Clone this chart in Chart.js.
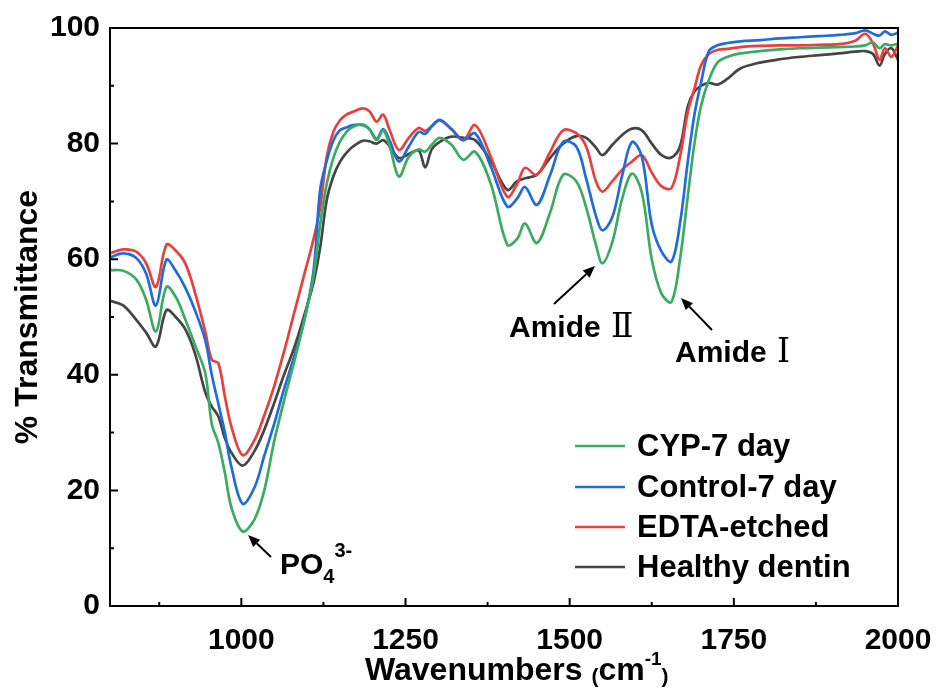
<!DOCTYPE html>
<html><head><meta charset="utf-8">
<script src="https://cdn.jsdelivr.net/npm/chart.js@4/dist/chart.umd.min.js"></script>
<style>html,body{margin:0;padding:0;background:#fff;} #wrap{width:938px;height:690px;position:relative;}</style>
</head><body><div id="wrap"><canvas id="c" width="938" height="690"></canvas></div>
<script>
const wavenumbers = [800,820,840,855,870,886,900,915,930,945,955,965,975,985,1002,1020,1035,1050,1065,1080,1095,1110,1120,1130,1140,1150,1160,1170,1185,1195,1206,1216,1226,1240,1255,1270,1280,1290,1302,1320,1338,1356,1380,1405,1420,1432,1450,1470,1490,1510,1525,1540,1550,1565,1580,1595,1610,1625,1640,1655,1668,1680,1690,1700,1712,1725,1740,1760,1790,1820,1850,1880,1910,1935,1950,1962,1972,1980,1990,2000];
const cyp7 = [58.1,58.0,56.5,53,47.5,55.2,53.5,49.5,45,40.3,31.5,28.2,23,17,12.9,15,20,28.5,35.5,42,49,57,66,73,77.5,80.3,82,82.9,83.3,82.5,80.6,82.3,79.5,74.3,77.7,79.0,78.6,79.8,81,79.8,77.2,78.6,73,62.5,63.5,66.2,62.8,68,74.6,73.5,69,62.5,59.3,63,70.5,74.8,71.5,60,54,52.6,60,71,80,86.5,91,94,95,95.6,96,96.3,96.5,96.6,96.7,96.8,97,97.5,96.5,97.2,97,97.3];
const control7 = [60.3,61,60.2,57.5,52,59.9,58,55,51,46,40,35,30,24,17.7,20.5,26,31.5,37.5,43,49,58,72,77,80.5,82.3,82.8,83.2,83.2,82.5,80.8,82.5,80.5,76.9,79.5,82,81.7,83,84.1,82.5,80.6,81.8,76,69.1,70.5,72.5,69.4,74.5,80.3,79.5,74,67.5,65,67.3,74.5,80.3,77.7,66,61.3,59.6,66.2,77,85,90.5,96,97,97.4,97.7,97.9,98.2,98.4,98.6,98.8,99.1,99.6,99,98.7,99.4,98.8,99.2];
const edta = [61,61.7,61.3,59.3,55.2,62.5,61.5,59.2,54,47.5,42.6,42,36.2,31,26.1,28.7,33,38,44,50.5,57,63.5,69,77.7,82,84,85,85.5,86.1,85.6,83.8,85,82.3,78.9,81,82.7,82.2,83,84,82.5,80.6,83.2,77.7,70.8,73,75.8,74.6,78.5,82.3,81.8,79.5,73.5,71.7,73.5,75.5,76.9,78,75,72.6,72.3,77.7,85.5,89.5,93.5,95.5,96.2,96.4,96.7,96.9,97,97,97.1,97.2,97.8,99,97.3,94.5,96.5,95,97];
const healthy = [52.8,52,49.5,47.3,44.9,51.2,50,47.8,43.5,37,34.5,32.8,29,26.5,24.3,26.8,30.5,35.1,40,44.5,50,56,62,70.2,74.3,76.8,78.4,79.5,80.5,80.4,80,80.6,79.5,77.5,78.2,78.8,75.9,79,80.3,81.2,81,80.6,77,72,73.5,74,74.6,77.5,80,81.3,81,79.3,78,79.8,81.5,82.6,82.3,80,78,77.6,79.5,86.5,89,90,90.5,90.2,91.2,93,94,94.6,95,95.3,95.6,95.9,96,95.5,93.5,95.5,96.5,94.5];
const seriesNames = ['CYP-7 day','Control-7 day','EDTA-etched','Healthy dentin'];
const seriesColors = ['#3DAA62','#1F6DD8','#E8403F','#454545'];
const xMajorTicks = [1000,1250,1500,1750,2000];
const xMinorTicks = [875,1125,1375,1625,1875];
const yMajorTicks = [0,20,40,60,80,100];
const yMinorTicks = [10,30,50,70,90];

const SANS = '"Liberation Sans", Arial, Helvetica, sans-serif';
const SERIF = '"DejaVu Serif", "Liberation Serif", "Times New Roman", serif';

const seriesValues = [cyp7, control7, edta, healthy];
const datasets = seriesValues.map((vals, k) => ({
  label: seriesNames[k],
  data: wavenumbers.map((w, i) => ({x: w, y: vals[i]})),
  borderColor: seriesColors[k],
  backgroundColor: seriesColors[k],
  borderWidth: 2.7,
  pointRadius: 0,
  tension: 0.35,
  fill: false
}));

function arrow(ctx, x1, y1, x2, y2) {
  ctx.save();
  ctx.strokeStyle = '#000'; ctx.fillStyle = '#000'; ctx.lineWidth = 2;
  const a = Math.atan2(y2 - y1, x2 - x1);
  const hl = 12, hw = 5;
  const bx = x2 - hl * Math.cos(a), by = y2 - hl * Math.sin(a);
  ctx.beginPath(); ctx.moveTo(x1, y1); ctx.lineTo(bx, by); ctx.stroke();
  ctx.beginPath();
  ctx.moveTo(x2, y2);
  ctx.lineTo(bx + hw * Math.sin(a), by - hw * Math.cos(a));
  ctx.lineTo(bx - hw * Math.sin(a), by + hw * Math.cos(a));
  ctx.closePath(); ctx.fill();
  ctx.restore();
}

const decor = {
  id: 'decor',
  afterDatasetsDraw(chart) {
    const ctx = chart.ctx, ca = chart.chartArea;
    const xs = chart.scales.x, ys = chart.scales.y;
    ctx.save();
    ctx.strokeStyle = '#000'; ctx.lineWidth = 2;
    ctx.strokeRect(ca.left, ca.top, ca.right - ca.left, ca.bottom - ca.top);
    ctx.beginPath();
    xMajorTicks.forEach(v => { const p = xs.getPixelForValue(v); ctx.moveTo(p, ca.bottom); ctx.lineTo(p, ca.bottom - 8); });
    xMinorTicks.forEach(v => { const p = xs.getPixelForValue(v); ctx.moveTo(p, ca.bottom); ctx.lineTo(p, ca.bottom - 4); });
    yMajorTicks.forEach(v => { const p = ys.getPixelForValue(v); ctx.moveTo(ca.left, p); ctx.lineTo(ca.left + 8, p); });
    yMinorTicks.forEach(v => { const p = ys.getPixelForValue(v); ctx.moveTo(ca.left, p); ctx.lineTo(ca.left + 4, p); });
    ctx.stroke();

    const ly = [446, 487, 527, 567];
    chart.data.datasets.forEach((ds, i) => {
      ctx.strokeStyle = ds.borderColor; ctx.lineWidth = 2.7;
      ctx.beginPath(); ctx.moveTo(575, ly[i]); ctx.lineTo(625, ly[i]); ctx.stroke();
      ctx.fillStyle = '#000'; ctx.font = 'bold 31px ' + SANS;
      ctx.textBaseline = 'middle'; ctx.textAlign = 'left';
      ctx.fillText(ds.label, 637, ly[i] + 1);
    });

    ctx.fillStyle = '#000'; ctx.textBaseline = 'alphabetic'; ctx.textAlign = 'left';
    arrow(ctx, 271, 557, 248, 535);
    ctx.font = 'bold 30px ' + SANS;
    ctx.fillText('PO', 280, 574);
    let w = ctx.measureText('PO').width;
    ctx.font = 'bold 20px ' + SANS;
    ctx.fillText('4', 280 + w, 583);
    const w4 = ctx.measureText('4').width;
    ctx.fillText('3-', 280 + w + w4, 557);

    arrow(ctx, 554, 304, 595, 266);
    ctx.font = 'bold 30px ' + SANS;
    ctx.fillText('Amide ', 509, 337);
    w = ctx.measureText('Amide ').width;
    ctx.font = '33px ' + SERIF;
    ctx.fillText('\u2161', 509 + w + 2, 337);

    arrow(ctx, 712, 330, 681, 298);
    ctx.font = 'bold 30px ' + SANS;
    ctx.fillText('Amide ', 675, 362);
    w = ctx.measureText('Amide ').width;
    ctx.font = '33px ' + SERIF;
    ctx.fillText('\u2160', 675 + w + 2, 362);

    let x = 365; const by = 680;
    ctx.font = 'bold 32px ' + SANS; ctx.fillText('Wavenumbers ', x, by); x += ctx.measureText('Wavenumbers ').width;
    ctx.font = 'bold 21px ' + SANS; ctx.fillText('(', x, by + 3); x += ctx.measureText('(').width;
    ctx.font = 'bold 32px ' + SANS; ctx.fillText('cm', x, by); x += ctx.measureText('cm').width;
    ctx.font = 'bold 19px ' + SANS; ctx.fillText('-1', x, by - 15); x += ctx.measureText('-1').width;
    ctx.font = 'bold 21px ' + SANS; ctx.fillText(')', x, by + 3);
    ctx.restore();
  }
};

new Chart(document.getElementById('c'), {
  type: 'line',
  data: { datasets },
  options: {
    responsive: false,
    animation: false,
    devicePixelRatio: 1,
    layout: { padding: { top: 28, right: 40, bottom: 0, left: 0 } },
    plugins: { legend: { display: false }, tooltip: { enabled: false } },
    scales: {
      x: {
        type: 'linear', min: 800, max: 2000,
        afterBuildTicks: s => { s.ticks = xMajorTicks.map(v => ({value: v})); },
        afterFit: s => { s.height = 84; s.paddingLeft = 0; s.paddingRight = 0; },
        grid: { display: false, drawTicks: false },
        border: { display: false },
        ticks: { color: '#000', padding: 17, callback: v => String(v), font: { family: SANS, size: 30, weight: 'bold' }, maxRotation: 0 }
      },
      y: {
        min: 0, max: 100,
        afterBuildTicks: s => { s.ticks = yMajorTicks.map(v => ({value: v})); },
        afterFit: s => { s.width = 110; s.paddingTop = 0; s.paddingBottom = 0; },
        grid: { display: false, drawTicks: false },
        border: { display: false },
        ticks: { color: '#000', padding: 10, callback: v => String(v), font: { family: SANS, size: 30, weight: 'bold' } },
        title: { display: true, text: '% Transmittance', color: '#000', padding: { top: 9, bottom: 0 }, font: { family: SANS, size: 32, weight: 'bold' } }
      }
    }
  },
  plugins: [decor]
});
</script>
</body></html>
